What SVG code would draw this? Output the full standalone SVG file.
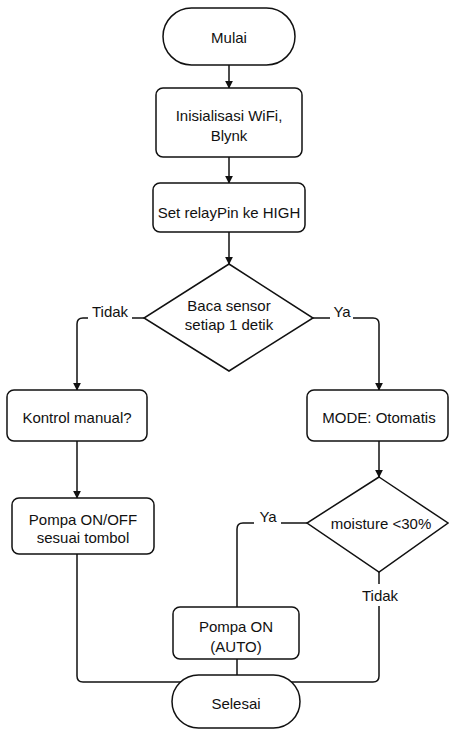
<svg xmlns="http://www.w3.org/2000/svg" width="449" height="729" viewBox="0 0 449 729">
<defs>
<style>
.n{fill:#fff;stroke:#111;stroke-width:1.5}
.t{font-family:"Liberation Sans",Arial,sans-serif;font-size:15px;fill:#111;text-anchor:middle;dominant-baseline:central}
.l{font-family:"Liberation Sans",Arial,sans-serif;font-size:15px;fill:#111;text-anchor:middle}
.c{fill:none;stroke:#111;stroke-width:1.5}
</style>
<marker id="a" viewBox="0 0 10 10" refX="9" refY="5" markerWidth="8" markerHeight="8" markerUnits="userSpaceOnUse" orient="auto">
<path d="M0,0 L10,5 L0,10 Z" fill="#111"/>
</marker>
</defs>
<rect width="449" height="729" fill="#fff"/>
<g id="connectors">
<path class="c" d="M229,65 V88" marker-end="url(#a)"/>
<path class="c" d="M229,157 V183" marker-end="url(#a)"/>
<path class="c" d="M229,232 V264" marker-end="url(#a)"/>
<path class="c" d="M144,318 H132"/>
<path class="c" d="M88,318 H83 Q77,318 77,324 V390" marker-end="url(#a)"/>
<text class="l" x="110" y="317">Tidak</text>
<path class="c" d="M313,318 H330"/>
<path class="c" d="M353,318 H373 Q379,318 379,324 V390" marker-end="url(#a)"/>
<text class="l" x="342" y="317">Ya</text>
<path class="c" d="M77,441 V498" marker-end="url(#a)"/>
<path class="c" d="M379,441 V477" marker-end="url(#a)"/>
<path class="c" d="M307,523 H281"/>
<path class="c" d="M254,523 H243 Q237,523 237,529 V607"/>
<text class="l" x="268" y="522">Ya</text>
<path class="c" d="M379,572 V584"/>
<text class="l" x="380" y="601">Tidak</text>
<path class="c" d="M379,606 V676 Q379,682 373,682 H290"/>
<path class="c" d="M77,554 V676 Q77,682 83,682 H185"/>
<path class="c" d="M237,659 V676"/>
</g>
<g id="mulai"><rect class="n" x="163" y="8" width="132" height="57" rx="28.5"/><text class="t" x="229" y="37">Mulai</text></g>
<g id="init"><rect class="n" x="156" y="88" width="146" height="69" rx="7"/><text class="t" x="229" y="115">Inisialisasi WiFi,</text><text class="t" x="229" y="135">Blynk</text></g>
<g id="relay"><rect class="n" x="153" y="183" width="152" height="49" rx="7"/><text class="t" x="229" y="212">Set relayPin ke HIGH</text></g>
<g id="baca"><polygon class="n" points="229,264 313,318 229,371 144,318"/><text class="t" x="229" y="305">Baca sensor</text><text class="t" x="229" y="324">setiap 1 detik</text></g>
<g id="manual"><rect class="n" x="7" y="390" width="140" height="51" rx="7"/><text class="t" x="77" y="417">Kontrol manual?</text></g>
<g id="otomatis"><rect class="n" x="307" y="390" width="141" height="51" rx="7"/><text class="t" x="379" y="417">MODE: Otomatis</text></g>
<g id="onoff"><rect class="n" x="12" y="498" width="142" height="56" rx="7"/><text class="t" x="83" y="519">Pompa ON/OFF</text><text class="t" x="83" y="537">sesuai tombol</text></g>
<g id="moisture"><polygon class="n" points="379,477 448,523 379,572 307,523"/><text class="t" x="381" y="523">moisture &lt;30%</text></g>
<g id="pompaon"><rect class="n" x="173" y="607" width="126" height="52" rx="7"/><text class="t" x="236" y="626">Pompa ON</text><text class="t" x="236" y="646">(AUTO)</text></g>
<g id="selesai"><rect class="n" x="172" y="675" width="128" height="53" rx="26.5"/><text class="t" x="236" y="703">Selesai</text></g>
</svg>
